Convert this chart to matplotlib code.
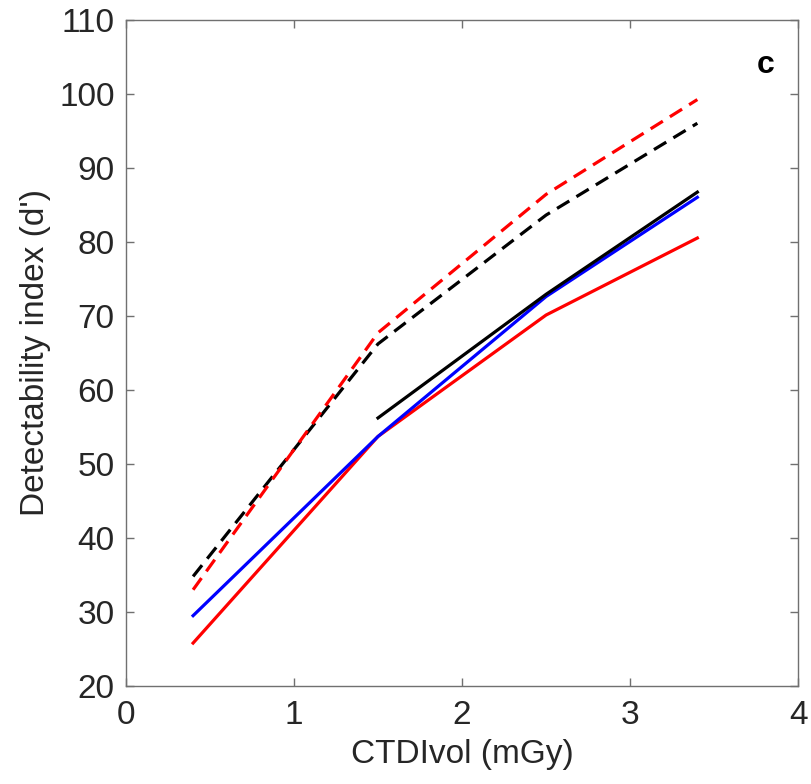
import matplotlib
matplotlib.use("Agg")
import matplotlib.pyplot as plt

plt.rcParams['font.family'] = ['Liberation Sans', 'DejaVu Sans']

# CTDIvol values (mGy)
dose_full = [0.4, 1.5, 2.5, 3.4]
dose_part = [1.5, 2.5, 3.4]

# detectability index (d') per series
red_dashed = [33.0, 67.7, 86.4, 99.2]
black_dashed = [34.8, 66.2, 83.6, 96.0]
black_solid = [56.2, 72.9, 86.7]
blue_solid = [29.5, 53.7, 72.6, 86.0]
red_solid = [25.8, 53.7, 70.1, 80.5]

fig = plt.figure(figsize=(8.12, 7.84), dpi=100)
ax = fig.add_axes([0.155, 0.125, 0.828, 0.85])

lw = 2.3
dash = (4.5, 2.6)
ax.plot(dose_full, red_solid, color='#ff0000', lw=lw)
ax.plot(dose_full, blue_solid, color='#0000ff', lw=lw)
ax.plot(dose_part, black_solid, color='black', lw=lw)
ax.plot(dose_full, black_dashed, color='black', lw=lw, dashes=dash)
ax.plot(dose_full, red_dashed, color='#ff0000', lw=lw, dashes=dash)

ax.set_xlim(0, 4)
ax.set_ylim(20, 110)
ax.set_xticks([0, 1, 2, 3, 4])
ax.set_yticks(range(20, 111, 10))

for s in ax.spines.values():
    s.set_color('#707070')
    s.set_linewidth(1.0)
ax.tick_params(direction='in', top=True, right=True, length=6, width=1,
               color='#707070', labelsize=24, labelcolor='#262626')
ax.tick_params(axis='x', pad=10)
ax.tick_params(axis='y', pad=8)

ax.set_xlabel('CTDIvol (mGy)', fontsize=24, color='#262626', labelpad=6)
ax.set_ylabel("Detectability index (d')", fontsize=24, color='#262626', labelpad=6)

ax.text(0.965, 0.955, 'c', transform=ax.transAxes, fontsize=23,
        fontweight='bold', ha='right', va='top')

fig.savefig('out.png', dpi=100)
